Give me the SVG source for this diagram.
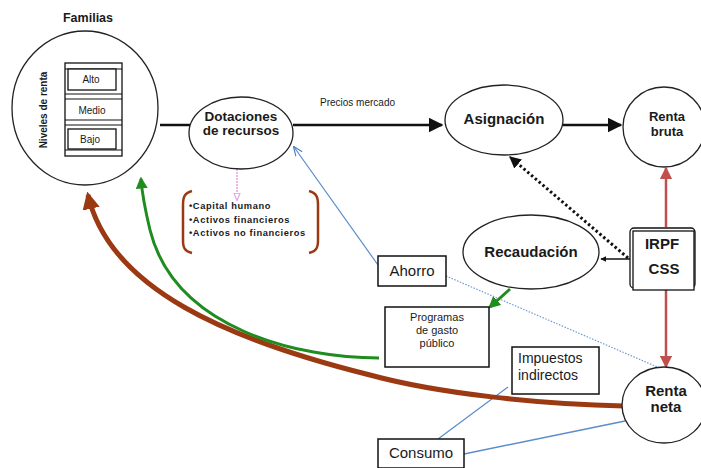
<svg xmlns="http://www.w3.org/2000/svg" width="701" height="468" viewBox="0 0 701 468">
<style>
text{font-family:"Liberation Sans",Arial,sans-serif;fill:#1a1a1a}
.b{font-weight:bold}
.node{fill:#fff;stroke:#222;stroke-width:1.3}
.box{fill:#fff;stroke:#111;stroke-width:1.5}
.bul{font-weight:bold;font-size:9.3px;letter-spacing:0.6px}
</style>
<defs>
<marker id="ab" viewBox="0 0 10 10" refX="9" refY="5" markerWidth="6" markerHeight="6" orient="auto"><path d="M0,0 L10,5 L0,10 z" fill="#111"/></marker>
<marker id="abs" viewBox="0 0 10 10" refX="9" refY="5" markerWidth="4" markerHeight="4" orient="auto"><path d="M0,0 L10,5 L0,10 z" fill="#111"/></marker>
<marker id="ar" viewBox="0 0 10 10" refX="9" refY="5" markerWidth="5" markerHeight="5" orient="auto"><path d="M0,0 L10,5 L0,10 z" fill="#c0504d"/></marker>
<marker id="ag" viewBox="0 0 10 10" refX="8" refY="5" markerWidth="4" markerHeight="4" orient="auto"><path d="M0,0 L10,5 L0,10 z" fill="#1e8c1e"/></marker>
<marker id="abr" viewBox="0 0 10 10" refX="8" refY="5" markerWidth="3.5" markerHeight="3.5" orient="auto"><path d="M0,0 L10,5 L0,10 z" fill="#9b3a12"/></marker>
<marker id="abl" viewBox="0 0 10 10" refX="9" refY="5" markerWidth="8" markerHeight="8" orient="auto"><path d="M0,1 L10,5 L0,9" fill="none" stroke="#4f81bd" stroke-width="1.2"/></marker>
<marker id="apk" viewBox="0 0 10 10" refX="9" refY="5" markerWidth="5" markerHeight="5" orient="auto"><path d="M0,1 L10,5 L0,9 z" fill="#fff" stroke="#e8a0e8" stroke-width="1.5"/></marker>
</defs>

<g id="connectors">
<line x1="160" y1="125" x2="190" y2="125" stroke="#111" stroke-width="2.5"/>
<line x1="293" y1="125" x2="442" y2="125" stroke="#111" stroke-width="2.5" marker-end="url(#ab)"/>
<line x1="563" y1="125" x2="621" y2="125" stroke="#111" stroke-width="2.5" marker-end="url(#ab)"/>
<line x1="628" y1="258" x2="510" y2="157" stroke="#111" stroke-width="3" stroke-dasharray="2.5,2.5" marker-end="url(#abs)"/>
<line x1="630" y1="259" x2="601" y2="259" stroke="#111" stroke-width="1.5" marker-end="url(#abs)"/>
<line x1="666" y1="227" x2="666" y2="168" stroke="#c0504d" stroke-width="2.5" marker-end="url(#ar)"/>
<line x1="666" y1="283" x2="666" y2="367" stroke="#c0504d" stroke-width="2.5" marker-end="url(#ar)"/>
<line x1="378" y1="265" x2="294" y2="147" stroke="#5b8ccc" stroke-width="1.2" marker-end="url(#abl)"/>
<line x1="446" y1="276" x2="662" y2="369" stroke="#6f9bd6" stroke-width="1.2" stroke-dasharray="1.5,1.5"/>
<line x1="510" y1="289" x2="490" y2="307" stroke="#1e8c1e" stroke-width="3" marker-end="url(#ag)"/>
<line x1="438" y1="439" x2="508" y2="387" stroke="#5b8ccc" stroke-width="1.2"/>
<line x1="464" y1="454" x2="625" y2="421" stroke="#5b8ccc" stroke-width="1.5"/>
<path d="M624,406 C540,404 440,394 370,375 C230,340 110,290 88,195" fill="none" stroke="#9b3a12" stroke-width="5" marker-end="url(#abr)"/>
<path d="M379,358 C300,358 175,330 150,230 C144,205 142,192 141,179" fill="none" stroke="#1e8c1e" stroke-width="3" marker-end="url(#ag)"/>
<line x1="237" y1="169" x2="237" y2="200" stroke="#e8a0e8" stroke-width="1.5" stroke-dasharray="2,1" marker-end="url(#apk)"/>
</g>

<g id="familias">
<text x="88" y="22" class="b" font-size="12.5" text-anchor="middle">Familias</text>
<ellipse cx="85" cy="108" rx="73" ry="77" class="node"/>
<text transform="translate(47,110) rotate(-90)" class="b" font-size="10" text-anchor="middle">Niveles de renta</text>
<rect x="65" y="63" width="57" height="93" fill="#fff" stroke="#111" stroke-width="1.3"/>
<g stroke="#111" stroke-width="1.2">
<line x1="65" y1="69" x2="122" y2="69"/>
<line x1="65" y1="94" x2="122" y2="94"/>
<line x1="65" y1="99" x2="122" y2="99"/>
<line x1="65" y1="120" x2="122" y2="120"/>
<line x1="65" y1="125" x2="122" y2="125"/>
<line x1="65" y1="150" x2="122" y2="150"/>
</g>
<rect x="68" y="69" width="48" height="21" fill="#fff" stroke="#111" stroke-width="1.3"/>
<rect x="68" y="129" width="48" height="20" fill="#fff" stroke="#111" stroke-width="1.3"/>
<text x="91" y="83" font-size="10" text-anchor="middle">Alto</text>
<text x="92" y="114" font-size="10" text-anchor="middle">Medio</text>
<text x="90" y="143" font-size="10" text-anchor="middle">Bajo</text>
</g>

<g id="dotaciones">
<ellipse cx="241" cy="133" rx="52" ry="36" class="node"/>
<text x="241" y="121" class="b" font-size="13.5" text-anchor="middle">Dotaciones</text>
<text x="241" y="135" class="b" font-size="13.5" text-anchor="middle">de recursos</text>
</g>

<g id="recursos">
<path d="M192,191 C184,193 183,198 183,205 L183,240 C183,247 184,251 192,253" fill="none" stroke="#9b3a12" stroke-width="2.5"/>
<path d="M309,191 C317,193 318,198 318,205 L318,240 C318,247 317,251 309,253" fill="none" stroke="#9b3a12" stroke-width="2.5"/>
<text x="189" y="209" class="bul">•Capital humano</text>
<text x="189" y="223" class="bul">•Activos financieros</text>
<text x="189" y="236" class="bul">•Activos no financieros</text>
</g>

<g id="precios">
<text x="320" y="106" font-size="10" fill="#333">Precios mercado</text>
</g>

<g id="asignacion">
<ellipse cx="504" cy="120" rx="59" ry="35" class="node"/>
<text x="504" y="124" class="b" font-size="15" text-anchor="middle">Asignación</text>
</g>

<g id="renta-bruta">
<ellipse cx="664" cy="127" rx="41" ry="40" class="node"/>
<text x="667" y="121" class="b" font-size="13" text-anchor="middle">Renta</text>
<text x="667" y="136" class="b" font-size="13" text-anchor="middle">bruta</text>
</g>

<g id="irpf">
<rect x="630" y="228" width="65" height="60" rx="4" fill="#fff" stroke="#111" stroke-width="1.3"/>
<rect x="633" y="231" width="61" height="59" fill="#fff" stroke="#111" stroke-width="1.3"/>
<text x="662" y="249" class="b" font-size="15" text-anchor="middle">IRPF</text>
<text x="664" y="274" class="b" font-size="15" text-anchor="middle">CSS</text>
</g>

<g id="recaudacion">
<ellipse cx="531" cy="252" rx="68" ry="37" class="node"/>
<text x="531" y="257" class="b" font-size="15" text-anchor="middle">Recaudación</text>
</g>

<g id="ahorro">
<rect x="378" y="256" width="68" height="30" class="box"/>
<text x="412" y="276" font-size="15" text-anchor="middle">Ahorro</text>
</g>

<g id="programas">
<rect x="385" y="307" width="104" height="60" class="box"/>
<text x="437" y="321" font-size="11" text-anchor="middle">Programas</text>
<text x="437" y="334" font-size="11" text-anchor="middle">de gasto</text>
<text x="437" y="347" font-size="11" text-anchor="middle">público</text>
</g>

<g id="impuestos">
<rect x="512" y="347" width="87" height="47" class="box"/>
<text x="518" y="363" font-size="14">Impuestos</text>
<text x="518" y="380" font-size="14">indirectos</text>
</g>

<g id="renta-neta">
<ellipse cx="664" cy="405" rx="42" ry="38" class="node"/>
<text x="666" y="396" class="b" font-size="15" text-anchor="middle">Renta</text>
<text x="666" y="412" class="b" font-size="15" text-anchor="middle">neta</text>
</g>

<g id="consumo">
<rect x="378" y="439" width="86" height="29" class="box"/>
<text x="421" y="458" font-size="15" text-anchor="middle">Consumo</text>
</g>
</svg>
